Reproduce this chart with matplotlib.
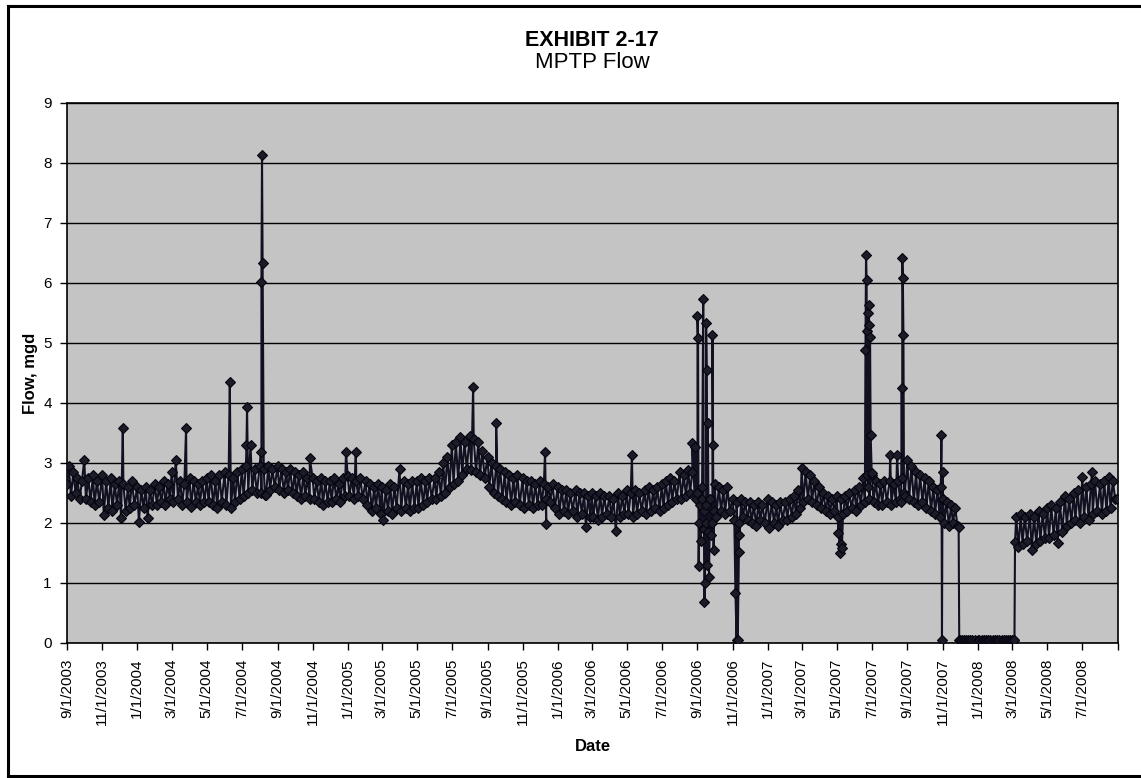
import datetime as dt

import matplotlib
matplotlib.use("Agg")
import matplotlib.pyplot as plt
from matplotlib.lines import Line2D

plt.rcParams["font.family"] = ["Liberation Sans", "DejaVu Sans"]

###############################################################################
# data (mgd)

first_month = (2003, 9)
sample_days = [1, 4, 8, 12, 16, 19, 23, 27]   # readings on these days of each month
base_flow = [
    [2.65, 2.95, 2.45, 2.85, 2.50, 2.75, 2.40, 2.70],  # 2003-09
    [3.05, 2.40, 2.75, 2.35, 2.80, 2.30, 2.70, 2.35],
    [2.80, 2.13, 2.70, 2.25, 2.75, 2.20, 2.65, 2.30],
    [2.70, 2.08, 2.65, 2.20, 2.60, 2.25, 2.70, 2.30],
    [2.60, 2.02, 2.55, 2.25, 2.60, 2.08, 2.55, 2.30],  # 2004-01
    [2.65, 2.30, 2.60, 2.35, 2.70, 2.30, 2.65, 2.40],
    [2.85, 2.35, 3.05, 2.40, 2.70, 2.30, 2.65, 2.35],
    [2.75, 2.27, 2.70, 2.35, 2.65, 2.30, 2.70, 2.35],
    [2.75, 2.35, 2.80, 2.30, 2.70, 2.25, 2.80, 2.35],
    [2.85, 2.30, 2.80, 2.25, 2.75, 2.35, 2.85, 2.40],
    [2.90, 2.45, 2.95, 2.50, 3.30, 2.55, 2.90, 2.50],
    [2.95, 2.50, 2.90, 2.47, 2.95, 2.55, 2.90, 2.60],
    [2.95, 2.55, 2.90, 2.50, 2.85, 2.55, 2.90, 2.50],
    [2.85, 2.45, 2.80, 2.40, 2.85, 2.45, 2.75, 2.40],
    [2.75, 2.40, 2.70, 2.35, 2.75, 2.30, 2.70, 2.35],
    [2.70, 2.35, 2.75, 2.40, 2.65, 2.35, 2.75, 2.45],
    [2.78, 2.45, 2.75, 2.40, 2.70, 2.45, 2.75, 2.40],  # 2005-01
    [2.70, 2.30, 2.65, 2.20, 2.60, 2.25, 2.65, 2.15],
    [2.60, 2.05, 2.55, 2.20, 2.65, 2.15, 2.60, 2.25],
    [2.90, 2.20, 2.70, 2.25, 2.65, 2.20, 2.70, 2.25],
    [2.70, 2.25, 2.75, 2.30, 2.70, 2.35, 2.75, 2.40],
    [2.75, 2.40, 2.85, 2.45, 3.00, 2.50, 3.10, 2.60],
    [3.30, 2.65, 3.35, 2.70, 3.43, 2.80, 3.35, 2.90],
    [3.45, 2.88, 3.40, 2.85, 3.35, 2.80, 3.20, 2.75],
    [3.10, 2.60, 3.00, 2.50, 2.95, 2.45, 2.90, 2.40],
    [2.85, 2.35, 2.80, 2.30, 2.75, 2.35, 2.80, 2.30],
    [2.75, 2.25, 2.70, 2.30, 2.70, 2.25, 2.65, 2.30],
    [2.70, 2.30, 2.65, 2.40, 2.60, 2.35, 2.65, 2.25],
    [2.60, 2.15, 2.55, 2.20, 2.55, 2.15, 2.50, 2.20],  # 2006-01
    [2.55, 2.10, 2.50, 2.15, 2.50, 1.93, 2.45, 2.10],
    [2.50, 2.10, 2.45, 2.05, 2.50, 2.10, 2.45, 2.15],
    [2.45, 2.10, 2.40, 1.87, 2.50, 2.10, 2.45, 2.15],
    [2.55, 2.15, 2.50, 2.10, 2.55, 2.15, 2.50, 2.20],
    [2.55, 2.15, 2.60, 2.20, 2.55, 2.25, 2.60, 2.20],
    [2.65, 2.25, 2.70, 2.30, 2.75, 2.35, 2.70, 2.40],
    [2.85, 2.40, 2.80, 2.45, 2.88, 2.50, 2.85, 2.45],
    [2.50, 2.00, 2.40, 1.90, 2.30, 1.85, 2.40, 2.00],
    [2.65, 2.10, 2.60, 2.20, 2.55, 2.15, 2.60, 2.20],
    [2.40, 2.05, 2.35, 2.00, 2.40, 2.10, 2.35, 2.05],
    [2.35, 2.00, 2.30, 1.95, 2.35, 2.05, 2.30, 2.00],
    [2.40, 1.92, 2.35, 2.00, 2.30, 1.95, 2.35, 2.05],  # 2007-01
    [2.35, 2.05, 2.40, 2.10, 2.45, 2.15, 2.55, 2.25],
    [2.92, 2.35, 2.85, 2.40, 2.80, 2.35, 2.70, 2.30],
    [2.60, 2.25, 2.50, 2.20, 2.45, 2.15, 2.40, 2.20],
    [2.45, 2.10, 2.40, 2.15, 2.45, 2.20, 2.50, 2.25],
    [2.55, 2.20, 2.60, 2.30, 2.75, 2.35, 2.80, 2.40],
    [2.80, 2.35, 2.70, 2.30, 2.65, 2.30, 2.70, 2.35],
    [2.70, 2.30, 2.65, 2.35, 2.70, 2.40, 2.75, 2.45],
    [3.05, 2.40, 2.95, 2.35, 2.85, 2.30, 2.80, 2.35],
    [2.75, 2.25, 2.70, 2.20, 2.60, 2.15, 2.55, 2.10],
    [2.40, 2.00, 2.35, 1.95, 2.30, 2.00, 2.25, 1.95],
    [0.05, 0.05, 0.05, 0.05, 0.05, 0.05, 0.05, 0.05],
    [0.05, 0.05, 0.05, 0.05, 0.05, 0.05, 0.05, 0.05],  # 2008-01
    [0.05, 0.05, 0.05, 0.05, 0.05, 0.05, 0.05, 0.05],
    [0.05, 0.05, 2.10, 1.60, 2.15, 1.65, 2.10, 1.70],
    [2.15, 1.55, 2.10, 1.65, 2.20, 1.70, 2.15, 1.75],
    [2.25, 1.75, 2.30, 1.80, 2.25, 1.67, 2.35, 1.85],
    [2.45, 1.95, 2.40, 2.00, 2.50, 2.05, 2.55, 2.00],
    [2.77, 2.10, 2.60, 2.05, 2.65, 2.15, 2.70, 2.20],
    [2.65, 2.15, 2.70, 2.20, 2.77, 2.25, 2.70, 2.40],
]

# single-day readings: spikes, storm days and outages
event_dates = [
    "2003-12-07", "2004-03-26", "2004-06-10", "2004-07-09", "2004-07-10",
    "2004-08-03", "2004-08-04", "2004-08-05", "2004-08-06", "2004-08-10",
    "2004-10-27", "2004-12-29", "2005-01-15", "2005-08-07", "2005-09-16",
    "2005-12-10", "2005-12-12", "2006-05-10", "2006-08-23",
    "2006-08-28", "2006-08-30", "2006-09-01", "2006-09-02", "2006-09-03",
    "2006-09-05", "2006-09-07", "2006-09-09", "2006-09-11", "2006-09-12",
    "2006-09-13", "2006-09-14", "2006-09-15", "2006-09-16", "2006-09-17",
    "2006-09-18", "2006-09-19", "2006-09-21", "2006-09-23", "2006-09-25",
    "2006-09-27", "2006-09-28", "2006-09-29", "2006-09-30",
    "2006-11-06", "2006-11-08", "2006-11-10", "2006-11-12", "2006-11-13",
    "2007-05-04", "2007-05-06", "2007-05-08", "2007-05-10",
    "2007-06-20", "2007-06-21", "2007-06-22", "2007-06-23", "2007-06-24",
    "2007-06-25", "2007-06-26", "2007-06-27", "2007-06-28", "2007-06-29",
    "2007-07-01", "2007-08-02", "2007-08-14", "2007-08-21", "2007-08-22",
    "2007-08-23", "2007-08-24", "2007-08-25", "2007-08-26",
    "2007-10-29", "2007-10-30", "2007-10-31", "2007-11-01", "2007-11-02",
    "2007-11-29", "2007-11-30", "2008-03-05", "2008-03-06", "2008-07-18",
    "2008-08-31",
]
event_flow = [
    3.58, 3.58, 4.35, 3.30, 3.93,
    3.18, 6.02, 8.13, 6.33, 2.47,
    3.08, 3.18, 3.18, 4.27, 3.67,
    3.18, 1.98, 3.13, 3.33,
    3.27, 2.40, 5.45, 5.08, 1.28,
    2.30, 1.70, 2.60, 5.73, 2.20,
    0.68, 1.00, 2.00, 5.33, 4.55,
    1.30, 3.67, 1.10, 2.40, 1.80,
    5.13, 3.30, 1.55, 2.20,
    0.83, 0.05, 0.05, 1.52, 1.80,
    1.83, 1.50, 1.65, 1.58,
    4.88, 6.47, 6.05, 5.20, 2.60,
    5.50, 5.63, 5.30, 5.10, 3.47,
    2.83, 3.13, 3.13, 2.35, 4.25,
    6.42, 6.08, 5.13, 2.50,
    2.60, 3.47, 0.05, 2.85, 2.40,
    1.93, 0.05, 0.05, 1.68, 2.85,
    2.40,
]

tick_labels = [
    "9/1/2003", "11/1/2003", "1/1/2004", "3/1/2004", "5/1/2004", "7/1/2004",
    "9/1/2004", "11/1/2004", "1/1/2005", "3/1/2005", "5/1/2005", "7/1/2005",
    "9/1/2005", "11/1/2005", "1/1/2006", "3/1/2006", "5/1/2006", "7/1/2006",
    "9/1/2006", "11/1/2006", "1/1/2007", "3/1/2007", "5/1/2007", "7/1/2007",
    "9/1/2007", "11/1/2007", "1/1/2008", "3/1/2008", "5/1/2008", "7/1/2008",
]

###############################################################################

points = []
y0, m0 = first_month
for k, row in enumerate(base_flow):
    yr = y0 + (m0 - 1 + k) // 12
    mo = (m0 - 1 + k) % 12 + 1
    for day, v in zip(sample_days, row):
        points.append((dt.date(yr, mo, day), v))
for d, v in zip(event_dates, event_flow):
    points.append((dt.date.fromisoformat(d), v))
points.sort()
dates = [p[0] for p in points]
flow = [p[1] for p in points]

fig = plt.figure(figsize=(11.41, 7.78), dpi=100)
ax = fig.add_axes([67 / 1141, 1 - 643 / 778, 1051 / 1141, 540 / 778])
ax.set_facecolor("#c4c4c4")

ax.plot(dates, flow, color="#111122", lw=1.5, marker="D", ms=5.2,
        mfc="#1c1c28", mec="#050510", mew=0.8, zorder=3)

ax.set_ylim(0, 9)
ax.set_yticks(range(10))
ax.grid(axis="y", color="black", lw=1.0, zorder=1)
ax.set_axisbelow(True)

tick_dates = [dt.datetime.strptime(s, "%m/%d/%Y").date() for s in tick_labels]
ax.set_xlim(dt.date(2003, 9, 1), dt.date(2008, 9, 1))
ax.set_xticks(tick_dates + [dt.date(2008, 9, 1)])
ax.set_xticklabels(tick_labels + [""], rotation=90, fontsize=11)
ax.tick_params(axis="y", labelsize=11, length=5, width=1, pad=6)
ax.tick_params(axis="x", length=5, width=1, pad=6)
for s in ax.spines.values():
    s.set_color("black")
    s.set_linewidth(1.2)

ax.set_ylabel("Flow, mgd", fontsize=12, fontweight="bold", labelpad=4)
ax.set_xlabel("Date", fontsize=12, fontweight="bold", labelpad=10)

fig.text(0.519, 1 - 40 / 778, "EXHIBIT 2-17", ha="center", va="center",
         fontsize=15.5, fontweight="bold")
fig.text(0.519, 1 - 63 / 778, "MPTP Flow", ha="center", va="center", fontsize=16)

# border around the page
for xs, ys in [([8, 8], [6, 776]), ([8, 1141], [6, 6]), ([8, 1141], [776, 776])]:
    fig.add_artist(Line2D([x / 1141 for x in xs], [1 - y / 778 for y in ys],
                          color="black", lw=2.2))

fig.savefig("out.png", dpi=100)
